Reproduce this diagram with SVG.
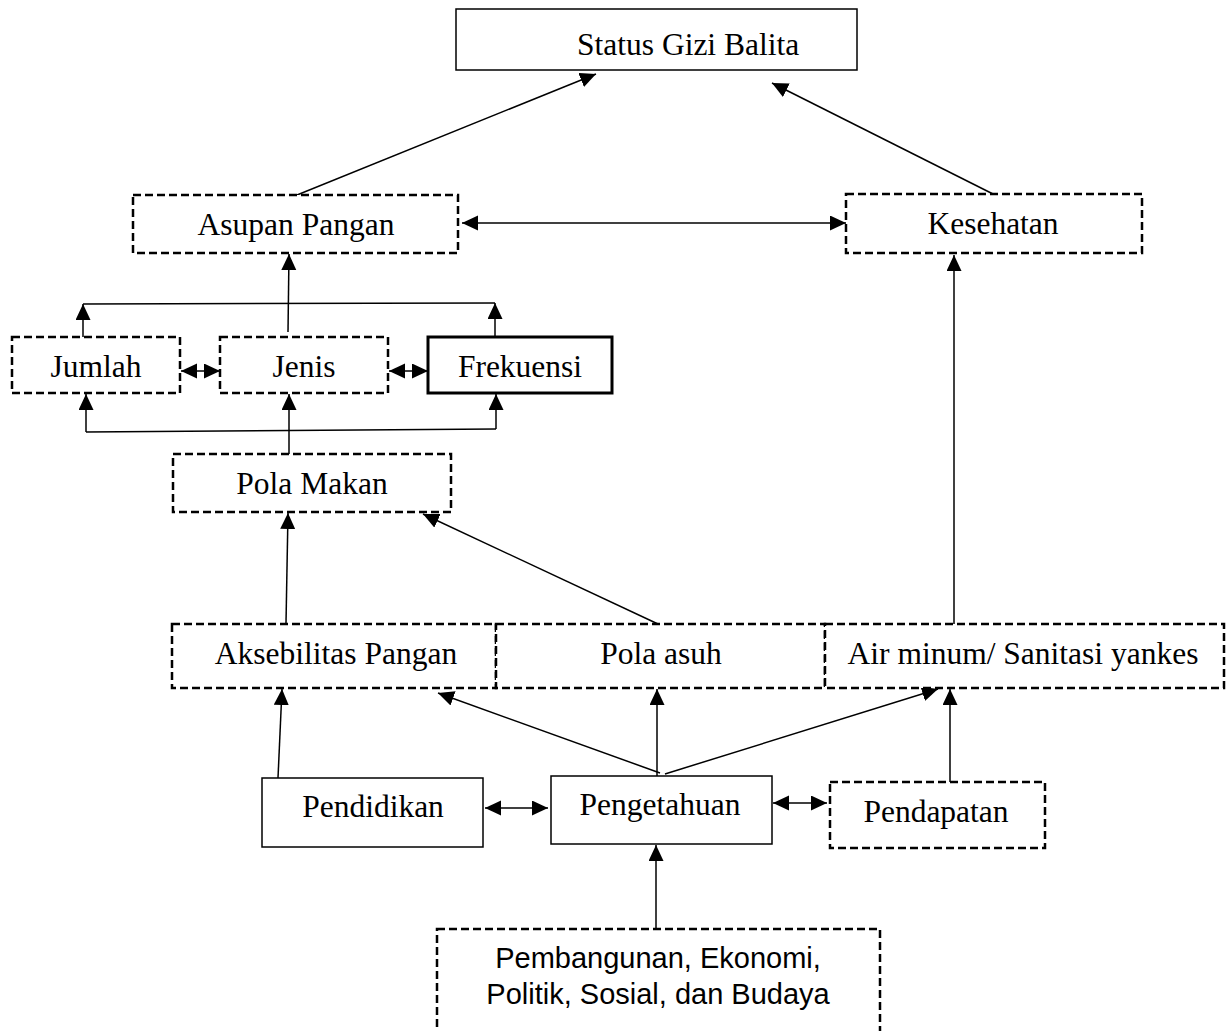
<svg xmlns="http://www.w3.org/2000/svg" width="1227" height="1031" viewBox="0 0 1227 1031">
<style>
.box{fill:#fff;stroke:#000;stroke-width:1.5}
.dash{fill:#fff;stroke:#000;stroke-width:2.5;stroke-dasharray:8 4}
.thick{fill:#fff;stroke:#000;stroke-width:3}
.t{font-family:"Liberation Serif","Times New Roman",serif;font-size:31.5px;fill:#000;text-anchor:middle}
.s{font-family:"Liberation Sans",Arial,sans-serif;font-size:29px;fill:#000;text-anchor:middle}
.c line,.c polyline{stroke:#000;stroke-width:1.5;fill:none}
.a{marker-end:url(#ah)}
.d{marker-end:url(#ah);marker-start:url(#ah)}
</style>
<defs>
<marker id="ah" markerUnits="userSpaceOnUse" markerWidth="17" markerHeight="16" refX="16" refY="7.5" orient="auto-start-reverse" viewBox="0 0 17 16">
<path d="M0,0 L16,7.5 L0,15 z" fill="#000"/>
</marker>
</defs>
<rect width="1227" height="1031" fill="#fff"/>
<g class="c" id="connectors">
<line class="a" x1="297" y1="195" x2="596" y2="74"/>
<line class="a" x1="993" y1="194" x2="772" y2="83"/>
<line class="d" x1="462" y1="223" x2="846" y2="223"/>
<line class="a" x1="288" y1="332" x2="289" y2="254"/>
<line class="a" x1="83" y1="337" x2="83" y2="304"/>
<line x1="83" y1="304" x2="495" y2="303"/>
<line class="a" x1="495" y1="337" x2="495" y2="303"/>
<line x1="86" y1="432" x2="496" y2="429"/>
<line class="a" x1="86" y1="432" x2="86" y2="394"/>
<line class="a" x1="496" y1="429" x2="496" y2="394"/>
<line class="a" x1="289" y1="455" x2="289" y2="394"/>
<line class="d" x1="181" y1="371" x2="220" y2="371"/>
<line class="d" x1="389" y1="371" x2="428" y2="371"/>
<line class="a" x1="286" y1="623" x2="288" y2="513"/>
<line class="a" x1="658" y1="624" x2="423" y2="514"/>
<line class="a" x1="954" y1="624" x2="954" y2="255"/>
<line class="a" x1="278" y1="778" x2="282" y2="689"/>
<line class="a" x1="660" y1="773" x2="438" y2="693"/>
<line class="a" x1="657" y1="776" x2="657" y2="689"/>
<line class="a" x1="665" y1="774" x2="938" y2="689"/>
<line class="a" x1="950" y1="782" x2="950" y2="689"/>
<line class="d" x1="485" y1="808" x2="548" y2="808"/>
<line class="d" x1="773" y1="803" x2="827" y2="803"/>
<line class="a" x1="656" y1="929" x2="656" y2="845"/>
</g>
<g id="status"><rect class="box" x="456" y="9" width="401" height="61"/><text class="t" x="577" y="55" style="text-anchor:start">Status Gizi Balita</text></g>
<g id="asupan"><rect class="dash" x="133" y="195" width="325" height="58"/><text class="t" x="296" y="235">Asupan Pangan</text></g>
<g id="kesehatan"><rect class="dash" x="846" y="194" width="296" height="59"/><text class="t" x="993" y="234">Kesehatan</text></g>
<g id="jumlah"><rect class="dash" x="12" y="337" width="168" height="56"/><text class="t" x="96" y="377">Jumlah</text></g>
<g id="jenis"><rect class="dash" x="220" y="337" width="168" height="56"/><text class="t" x="304" y="377">Jenis</text></g>
<g id="frekuensi"><rect class="thick" x="428" y="337" width="184" height="56"/><text class="t" x="520" y="377">Frekuensi</text></g>
<g id="polamakan"><rect class="dash" x="173" y="454" width="278" height="58"/><text class="t" x="312" y="494">Pola Makan</text></g>
<g id="aksebilitas"><rect class="dash" x="172" y="624" width="324" height="64"/><text class="t" x="336" y="664">Aksebilitas Pangan</text></g>
<g id="polaasuh"><rect class="dash" x="496" y="624" width="329" height="64"/><text class="t" x="661" y="664">Pola asuh</text></g>
<g id="airminum"><rect class="dash" x="825" y="624" width="399" height="64"/><text class="t" x="1023" y="664">Air minum/ Sanitasi yankes</text></g>
<g id="pendidikan"><rect class="box" x="262" y="778" width="221" height="69"/><text class="t" x="373" y="817">Pendidikan</text></g>
<g id="pengetahuan"><rect class="box" x="551" y="776" width="221" height="68"/><text class="t" x="660" y="815">Pengetahuan</text></g>
<g id="pendapatan"><rect class="dash" x="830" y="782" width="215" height="66"/><text class="t" x="936" y="822">Pendapatan</text></g>
<g id="pembangunan"><rect class="dash" x="437" y="929" width="443" height="110"/><text class="s" x="658" y="968">Pembangunan, Ekonomi,</text><text class="s" x="658" y="1004">Politik, Sosial, dan Budaya</text></g>
</svg>
